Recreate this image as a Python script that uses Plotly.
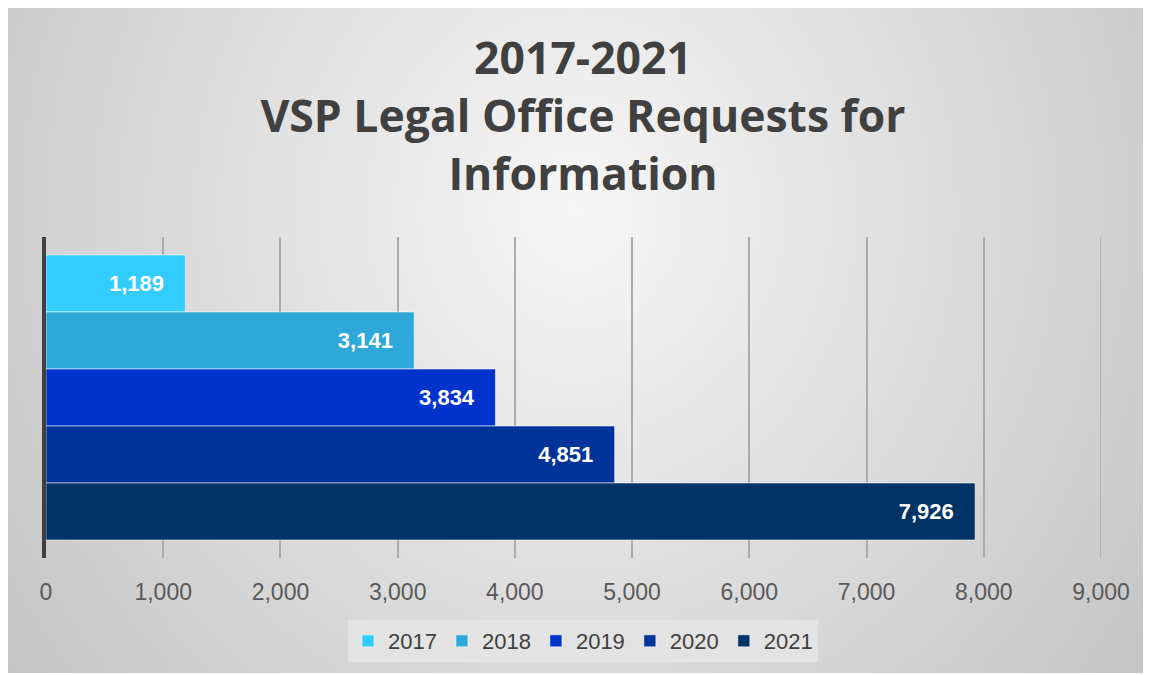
import base64, struct, zlib
import numpy as np
import plotly.graph_objects as go

# ---------------- data ----------------
years = ["2017", "2018", "2019", "2020", "2021"]
requests = [1189, 3141, 3834, 4851, 7926]
colors = ["#33ccff", "#2ea8d8", "#0033cc", "#003399", "#003366"]
category = [""]
tick_vals = [0, 1000, 2000, 3000, 4000, 5000, 6000, 7000, 8000, 9000]

title_lines = ["2017-2021", "VSP Legal Office Requests for", "Information"]

# ---------------- figure geometry (page pixels, page has 8px body margin) ----------------
OFF = 8
W, H = 1151, 675
PL, PR, PT, PB = 46, 1101, 237, 558          # plot area in page pixels
ML, MT = PL - OFF, PT - OFF
PW, PH = PR - PL, PB - PT
MR = W - ML - PW
MB = H - MT - PH
FX0, FY0, FX1, FY1 = 6, 7, 1150, 673          # framed background in page pixels
GRID = "#ababab"


def radial_png(w, h, scale):
    ys, xs = np.mgrid[0:h, 0:w].astype(float)
    xs = xs * scale + FX0
    ys = ys * scale + FY0
    r = np.sqrt(((xs - 575) / 660.0) ** 2 + ((ys - 210) / 720.0) ** 2)
    v = np.clip(247 - 46 * r, 0, 255).astype(np.uint8)
    raw = b"".join(b"\x00" + v[i].tobytes() for i in range(h))

    def chunk(t, d):
        c = struct.pack(">I", len(d)) + t + d
        return c + struct.pack(">I", zlib.crc32(t + d) & 0xFFFFFFFF)

    png = b"\x89PNG\r\n\x1a\n"
    png += chunk(b"IHDR", struct.pack(">IIBBBBB", w, h, 8, 0, 0, 0, 0))
    png += chunk(b"IDAT", zlib.compress(raw, 9))
    png += chunk(b"IEND", b"")
    return "data:image/png;base64," + base64.b64encode(png).decode()


S = 4
bg_src = radial_png((FX1 - FX0) // S + 1, (FY1 - FY0) // S + 1, S)

fig = go.Figure()
for yr, val, col in zip(years, requests, colors):
    fig.add_trace(go.Bar(
        name=yr,
        x=[val],
        y=category,
        orientation="h",
        marker=dict(color=col, line=dict(color="rgba(255,255,255,0.55)", width=1)),
        text=[f"{val:,}" + "\u00a0\u00a0\u00a0"],
        textposition="inside",
        insidetextanchor="end",
        textfont=dict(family="Liberation Sans", size=22, color="white", weight="bold"),
        cliponaxis=False,
        hoverinfo="skip",
    ))


def py(page_y):
    """page pixel y -> paper coordinate"""
    return (PB - page_y) / PH


def px(page_x):
    return (page_x - PL) / PW


# gridline at the end of the range (plotly skips gridlines on the plot edge)
fig.add_shape(type="line", xref="x", yref="paper",
              x0=tick_vals[-1], x1=tick_vals[-1], y0=0, y1=1,
              line=dict(color=GRID, width=1.5), layer="below")

fig.update_layout(
    width=W, height=H,
    margin=dict(l=ML, r=MR, t=MT, b=MB),
    paper_bgcolor="white",
    plot_bgcolor="rgba(0,0,0,0)",
    barmode="group",
    bargap=0.112,
    bargroupgap=0,
    title=dict(
        text="<br>".join(title_lines),
        x=(583 - OFF) / W, xref="container", xanchor="center",
        y=1 - 66 / H, yref="container", yanchor="top",
        font=dict(family="Open Sans", size=44.5, color="#404040", weight="bold"),
    ),
    xaxis=dict(
        range=[tick_vals[0], tick_vals[-1]],
        tickvals=tick_vals,
        tickformat=",",
        showgrid=True,
        gridcolor=GRID,
        gridwidth=1.5,
        zeroline=False,
        showline=False,
        ticks="",
        ticklabelstandoff=18,
        tickfont=dict(family="Liberation Sans", size=23, color="#595959"),
        fixedrange=True,
    ),
    yaxis=dict(
        autorange="reversed",
        showticklabels=False,
        showgrid=False,
        showline=True,
        linecolor="#404040",
        linewidth=3.5,
        ticks="",
        fixedrange=True,
    ),
    legend=dict(
        orientation="h",
        x=px(583), xanchor="center",
        y=py(620), yanchor="top",
        bgcolor="#e3e3e3",
        font=dict(family="Liberation Sans", size=22, color="#404040"),
        traceorder="normal",
    ),
    images=[dict(
        source=bg_src,
        xref="paper", yref="paper",
        x=px(FX0), y=py(FY0),
        sizex=(FX1 - FX0) / PW, sizey=(FY1 - FY0) / PH,
        xanchor="left", yanchor="top",
        sizing="stretch", layer="below",
    )],
    showlegend=True,
)

fig.write_html("out.html")
